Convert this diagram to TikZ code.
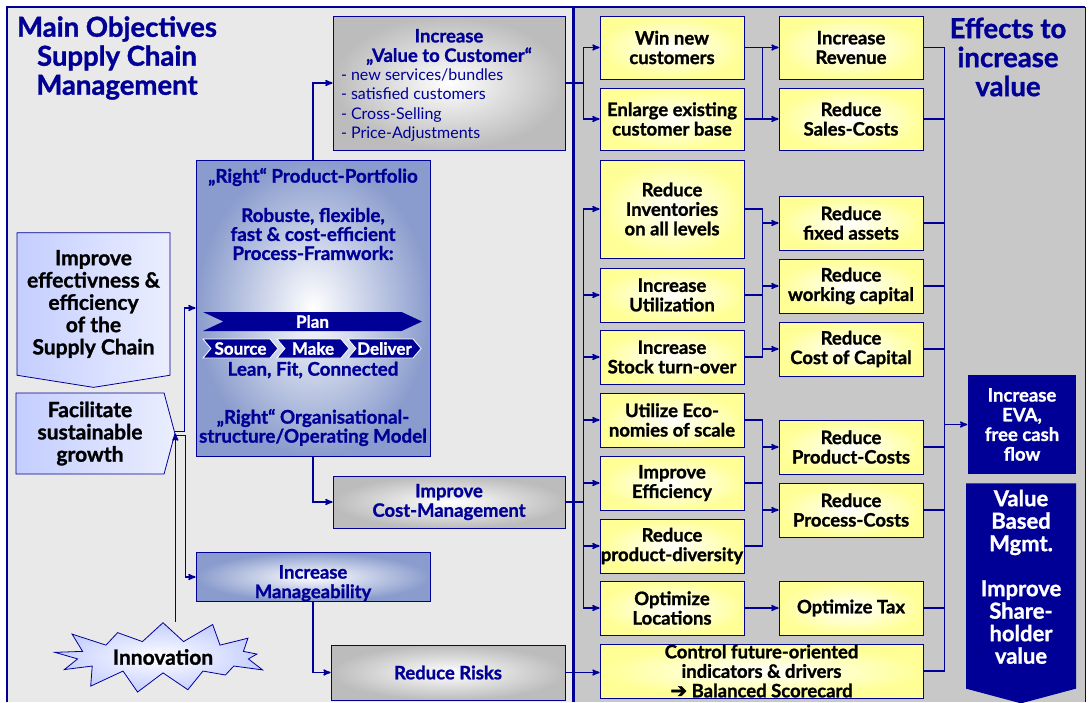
\documentclass[tikz,border=0pt]{standalone}
\usepackage{fontspec}
\setmainfont{Lato}[BoldFeatures={FakeBold=1.2}]
\newfontfamily\symfont[FakeBold=2]{DejaVu Sans}
\usetikzlibrary{arrows,shapes}

\definecolor{navy}{RGB}{0,0,150}
\definecolor{panelleft}{RGB}{233,233,233}
\definecolor{panelright}{RGB}{200,200,200}
\definecolor{effyellow}{RGB}{255,255,150}
\definecolor{objgray}{RGB}{188,188,188}
\definecolor{objblue}{RGB}{138,156,205}
\definecolor{paleblue}{RGB}{196,206,255}

\tikzstyle{effect}=[rectangle,draw=navy,line width=0.8pt,inner color=white,outer color=effyellow,
  minimum width=144pt,minimum height=54pt,inner sep=0pt,align=center,text=black,
  font=\bfseries\fontsize{18.5}{19.5}\selectfont]
\tikzstyle{graybox}=[rectangle,draw=navy,line width=0.8pt,inner color=white,outer color=objgray,
  minimum width=232pt,inner sep=0pt,align=center,text=navy,
  font=\bfseries\fontsize{18.5}{19.5}\selectfont]
\tikzstyle{bluebox}=[graybox,outer color=objblue]
\tikzstyle{goal}=[signal,draw=navy,line width=0.8pt,left color=paleblue,right color=paleblue!35,
  inner sep=0pt,align=center,text=black,font=\bfseries\fontsize{21}{22.3}\selectfont]
\tikzstyle{chevron}=[signal,signal from=west,signal to=east,fill=navy,draw=white,line width=0.8pt,
  text=white,inner sep=0pt,minimum height=19pt,signal pointer angle=100,
  font=\bfseries\fontsize{17}{17}\selectfont]
\tikzstyle{valuebox}=[rectangle,fill=navy,inner sep=0pt,align=center,text=white,
  font=\bfseries\fontsize{18.5}{19.7}\selectfont]
\tikzstyle{heading}=[text=navy,align=center,font=\bfseries\fontsize{27.5}{29}\selectfont]
\tikzstyle{pftext}=[text=navy,align=center,font=\bfseries\fontsize{18.8}{19}\selectfont]

\begin{document}
\begin{tikzpicture}[x=1pt,y=-1pt,>=stealth',line width=1.5pt,navy]
\useasboundingbox (0,0) rectangle (1091,702);
% panels
\fill[panelleft] (7,7) rectangle (573,702);
\fill[panelright] (573,7) rectangle (1085,702);
\draw[line width=1pt] (1085,7) -- (1085,702);
\draw[line width=2.5pt] (7,702) -- (7,7) -- (1085,7);
\draw[line width=3pt] (573,7) -- (573,702);

\node[heading] (title) at (117,58) {Main Objectives\\Supply Chain\\Management};
\node[heading] (effects) at (1008,57) {Effects to\\increase\\value};

% objectives
\node[graybox,minimum height=134pt,align=left] (vcust) at (449,83)
  {\parbox{216pt}{\centering\rule{0pt}{18pt}Increase\\„Value to Customer“}\\[2.5pt]
   {\mdseries\fontsize{16}{19.5}\selectfont - new services/bundles}\\
   {\mdseries\fontsize{16}{19.5}\selectfont - satisfied customers}\\
   {\mdseries\fontsize{16}{19.5}\selectfont - Cross-Selling}\\
   {\mdseries\fontsize{16}{19.5}\selectfont - Price-Adjustments}};
\node[bluebox,minimum width=234pt,minimum height=296pt] (portfolio) at (313,308) {};
\node[pftext] (pfhead) at (313,177) {„Right“ Product-Portfolio};
\node[pftext] (framework) at (313,234) {Robuste, flexible,\\fast \& cost-efficient\\Process-Framwork:};
\node[chevron,minimum width=219pt,signal pointer angle=50,draw=none] (plan) at (312.5,321.5) {Plan};
\node[chevron,minimum width=75pt] (source) at (240.5,348.5) {Source};
\node[chevron,minimum width=72pt] (make) at (313,348.5) {Make};
\node[chevron,minimum width=73pt] (deliver) at (384.5,348.5) {Deliver};
\node[pftext] (lean) at (313,370) {Lean, Fit, Connected};
\node[pftext] (orga) at (313,427.5) {„Right“ Organisational-\\structure/Operating Model};
\node[graybox,minimum height=52pt] (costmgmt) at (449,502) {Improve\\Cost-Management};
\node[bluebox,minimum width=234pt,minimum height=44pt] (manage) at (313,577)
  {\rule{0pt}{26pt}Increase\\Manageability};
\node[graybox,minimum width=234pt,minimum height=55pt] (risks) at (448,672.5) {Reduce Risks};

\node[goal,signal to=south,minimum width=153pt,minimum height=153pt,signal pointer angle=162] (improve)
  at (93.5,304) {Improve\\effectivness \&\\efficiency\\of the\\Supply Chain};
\node[goal,signal to=east,minimum width=159pt,minimum height=81pt,signal pointer angle=150] (facilitate)
  at (90,433.5) {Facilitate\\sustainable\\growth};
\node[starburst,draw=navy,line width=0.8pt,inner color=white,outer color=paleblue,
  starburst points=13,starburst point height=28pt,random starburst=41,
  minimum width=228pt,minimum height=64pt,text=black,
  font=\bfseries\fontsize{21}{22}\selectfont] (innov) at (163,657) {Innovation};

% effects
\node[effect,minimum height=63pt] (win) at (672,47.5) {Win new\\customers};
\node[effect,minimum height=62pt] (enlarge) at (672,119) {Enlarge existing\\customer base};
\node[effect,minimum height=98pt] (inventories) at (672,209) {Reduce\\Inventories\\on all levels};
\node[effect] (utilization) at (672,295) {Increase\\Utilization};
\node[effect] (stock) at (672,357) {Increase\\Stock turn-over};
\node[effect] (economies) at (672,420) {Utilize Eco-\\nomies of scale};
\node[effect] (efficiency) at (672,483) {Improve\\Efficiency};
\node[effect] (diversity) at (672,546) {Reduce\\product-diversity};
\node[effect] (locations) at (672,608) {Optimize\\Locations};
\node[effect,minimum width=323pt] (control) at (761.5,671)
  {Control future-oriented\\indicators \& drivers\\{\symfont\mdseries\fontsize{20}{19.5}\selectfont ➔} Balanced Scorecard};

\node[effect,minimum height=63pt] (revenue) at (851,47.5) {Increase\\Revenue};
\node[effect,minimum height=62pt] (salescost) at (851,119) {Reduce\\Sales-Costs};
\node[effect] (fixedassets) at (851,223) {Reduce\\fixed assets};
\node[effect] (workcap) at (851,286) {Reduce\\working capital};
\node[effect] (costcap) at (851,349) {Reduce\\Cost of Capital};
\node[effect] (prodcost) at (851,447) {Reduce\\Product-Costs};
\node[effect] (proccost) at (851,510) {Reduce\\Process-Costs};
\node[effect] (tax) at (851,608) {Optimize Tax};

\node[valuebox,minimum width=108pt,minimum height=99pt] (eva) at (1022,424.5) {Increase\\EVA,\\free cash\\flow};
\node[valuebox,signal,signal to=south,signal pointer angle=150,minimum width=110pt,minimum height=216pt,
  font=\bfseries\fontsize{22}{22.5}\selectfont] (vbm) at (1021,586)
  {Value\\Based\\Mgmt.\\[22.5pt]Improve\\Share-\\holder\\value\\[-4pt]\mbox{}};

% connectors left
\draw[->] (portfolio.north) |- (vcust.west);
\draw[->] (portfolio.south) |- (costmgmt.west);
\draw[->] (manage.south) |- (risks.west);
\draw[->] ([yshift=2pt]facilitate.east) -- ++(9,0) |- (portfolio.west);
\draw[->] ([yshift=-2pt]facilitate.east) -- ++(10,0) |- (manage.west);
\draw[->] (innov.north -| facilitate.east) -- (facilitate.east);

% connectors right
\foreach \n in {win,enlarge}
  \draw[->] (vcust.east) -- ++(18,0) |- (\n.west);
\draw[->] (win) -- (revenue);
\draw[->] (enlarge) -- (salescost);
\draw (win.east) -- ++(18,0) |- (enlarge.east);
\foreach \n in {inventories,utilization,stock,economies,efficiency,diversity,locations}
  \draw[->] (costmgmt.east) -- ++(18,0) |- (\n.west);
\draw[->] (risks.east) -- (risks.east -| control.west);
\foreach \n in {fixedassets,workcap,costcap}
  \draw[->] (inventories.east) -- ++(18,0) |- (\n.west);
\draw (utilization.east) -- ++(18,0);
\draw (stock.east) -- ++(18,0) |- (inventories.east);
\foreach \n in {prodcost,proccost}
  \draw[->] (economies.east) -- ++(18,0) |- (\n.west);
\draw (efficiency.east) -- ++(18,0);
\draw (diversity.east) -- ++(18,0) |- (economies.east);
\draw[->] (locations) -- (tax);
\coordinate (collect) at ([xshift=-23pt]eva.west);
\foreach \n in {revenue,salescost,fixedassets,workcap,costcap,prodcost,proccost,tax,control}
  \draw (\n.east) -| (collect);
\draw[->] (collect) -- (eva.west);
\end{tikzpicture}
\end{document}
